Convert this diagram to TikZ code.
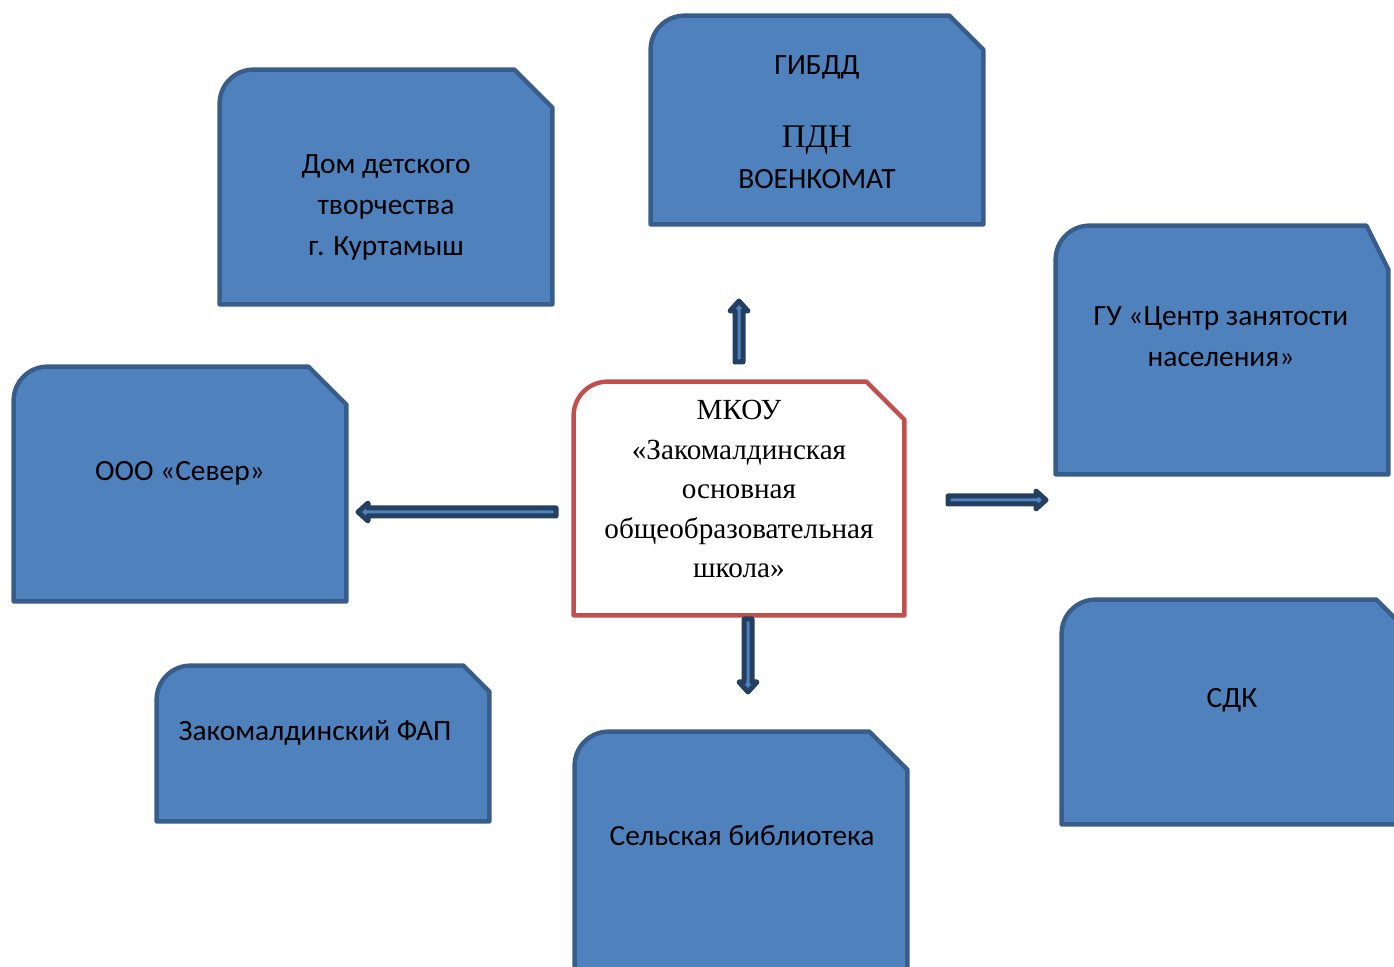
\documentclass[tikz,border=0pt]{standalone}
\usepackage{fontspec}
\setmainfont{Carlito}
\newfontfamily\timesfont{Liberation Serif}
\usetikzlibrary{calc}
\usetikzlibrary{fit}
\definecolor{boxfill}{HTML}{4F81BD}
\definecolor{boxline}{HTML}{385D8A}
\definecolor{mkouline}{HTML}{C0504D}
\definecolor{arrowline}{HTML}{243F60}

\tikzset{
  area/.style={inner sep=0pt},
  bluebox/.style={fill=boxfill,draw=boxline,line width=2.2pt,line join=round},
  redbox/.style={fill=white,draw=mkouline,line width=2.2pt,line join=round},
  label text/.style={font=\fontsize{14.7}{20.5}\selectfont,align=center},
  blockarrow/.style={fill=boxfill,draw=arrowline,line width=2.5pt,line join=round}
}

% box with round top left and cut top right corner
\newcommand\snipbox[4]{%
  \draw[#2] (#1.south west) -- ([yshift=-17pt]#1.north west)
    arc[start angle=180,end angle=90,radius=17pt]
    -- ([xshift=-#3]#1.north east) -- ([yshift=-#4]#1.north east)
    -- (#1.south east) -- cycle;}

% flat block arrow from #1 to #2
\newcommand\blockarrow[2]{%
  \coordinate (head base) at ($(#2)!5pt!(#1)$);
  \draw[blockarrow] ($(#1)!2pt!90:(#2)$) -- ($(head base)!2pt!-90:(#1)$)
    -- ($(head base)!4.5pt!-90:(#1)$) -- (#2) -- ($(head base)!4.5pt!90:(#1)$)
    -- ($(head base)!2pt!90:(#1)$) -- ($(#1)!2pt!-90:(#2)$) -- cycle;}

\begin{document}
\begin{tikzpicture}[x=0.5pt,y=-0.5pt]
  \useasboundingbox (0,0) rectangle (1394,967);
  \clip (0,0) rectangle (1394,967);
  \node[area,fit={(220,70) (552,304)}] (dom) {};
  \node[area,fit={(651,16) (983,224)}] (gibdd) {};
  \node[area,fit={(1056,226) (1388,474)}] (gu) {};
  \node[area,fit={(14,367) (346,601)}] (sever) {};
  \node[area,fit={(574,382) (904,615)}] (mkou) {};
  \node[area,fit={(157,666) (489,821)}] (fap) {};
  \node[area,fit={(575,732) (907,1010)}] (bibl) {};
  \node[area,fit={(1062,600) (1414,824)}] (sdk) {};
  \snipbox{dom}{bluebox}{19pt}{19pt}
  \snipbox{gibdd}{bluebox}{17pt}{17pt}
  \snipbox{gu}{bluebox}{11pt}{22pt}
  \snipbox{sever}{bluebox}{19pt}{19pt}
  \snipbox{mkou}{redbox}{19pt}{19pt}
  \snipbox{fap}{bluebox}{13pt}{13pt}
  \snipbox{bibl}{bluebox}{19pt}{19pt}
  \snipbox{sdk}{bluebox}{19pt}{19pt}

  \node[label text] (dom text) at (386,207) {Дом детского\\творчества\\г. Куртамыш};
  \node[label text] (gibdd text) at (817,122) {ГИБДД\\[16pt]{\timesfont\fontsize{16.5}{20.5}\selectfont ПДН}\\ВОЕНКОМАТ};
  \node[label text] (gu text) at (1221,337) {ГУ «Центр занятости\\населения»};
  \node[label text] (sever text) at (180,473) {ООО «Север»};
  \node[font=\timesfont\fontsize{14.6}{19.75}\selectfont,align=center] (mkou text) at (739,489)
    {МКОУ\\«Закомалдинская\\основная\\общеобразовательная\\школа»};
  \node[label text] (fap text) at (315,733) {Закомалдинский ФАП};
  \node[label text] (bibl text) at (742,836) {Сельская библиотека};
  \node[label text] (sdk text) at (1232,700) {СДК};

  \coordinate (up tail) at (739,362);
  \coordinate (up tip) at (739,301);
  \coordinate (left tail) at (556,512);
  \coordinate (left tip) at (358,512);
  \coordinate (right tail) at (948,500);
  \coordinate (right tip) at (1046,500);
  \coordinate (down tail) at (748,619);
  \coordinate (down tip) at (748,692);
  \blockarrow{up tail}{up tip}
  \blockarrow{left tail}{left tip}
  \blockarrow{right tail}{right tip}
  \blockarrow{down tail}{down tip}
\end{tikzpicture}
\end{document}
